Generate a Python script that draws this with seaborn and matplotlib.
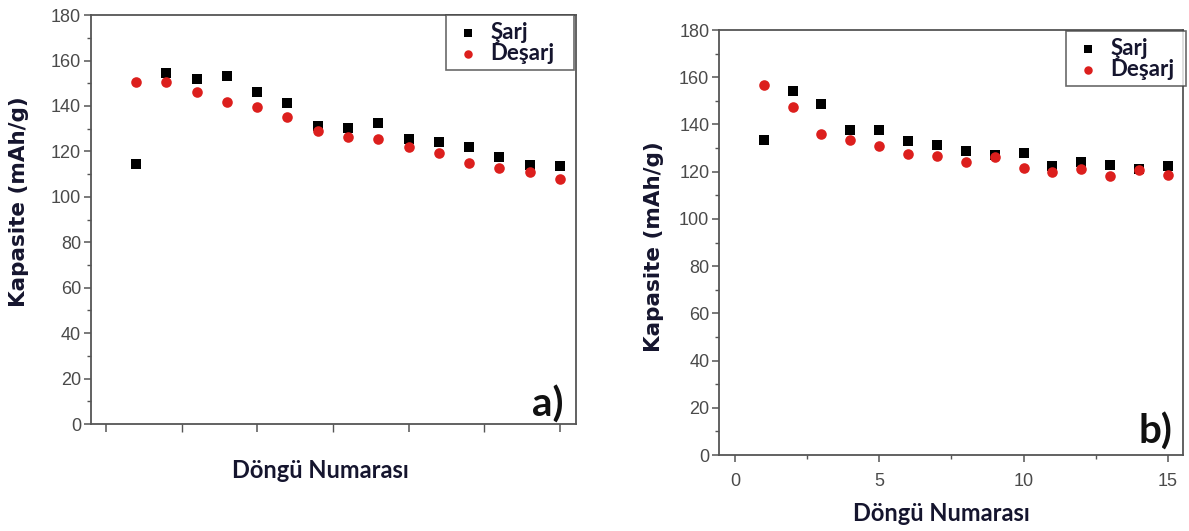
import numpy as np
import pandas as pd
import matplotlib
matplotlib.use("Agg")
import matplotlib.pyplot as plt
from matplotlib.ticker import MultipleLocator, NullFormatter
import seaborn as sns

# ---- data ----
cycles = list(range(1, 16))
sarj_a = [114.5, 154.4, 151.7, 153.3, 146.0, 141.2, 131.2, 130.5, 132.7, 125.5, 124.1, 122.1, 117.7, 114.1, 113.7]
desarj_a = [150.7, 150.4, 146.3, 141.6, 139.4, 135.0, 129.0, 126.5, 125.5, 122.1, 119.2, 115.1, 112.6, 110.8, 107.9]
sarj_b = [133.6, 154.3, 148.7, 137.5, 137.5, 132.8, 131.2, 128.6, 127.2, 128.1, 122.5, 123.9, 122.7, 121.1, 122.3]
desarj_b = [156.7, 147.6, 136.1, 133.6, 130.9, 127.4, 126.7, 123.9, 126.2, 121.6, 119.9, 121.3, 118.1, 120.6, 118.8]
series_names = ["Şarj", "Deşarj"]
panel_labels = ["a)", "b)"]
x_ticks = [0, 5, 10, 15]
y_ticks = list(range(0, 181, 20))
x_label = "Döngü Numarası"
y_label = "Kapasite (mAh/g)"

sns.set_style("ticks")
plt.rcParams["font.family"] = ["Liberation Sans", "DejaVu Sans"]

fig = plt.figure(figsize=(11.89, 5.31), dpi=100)
ax_a = fig.add_axes([0.0765, 0.2015, 0.408, 0.770])
ax_b = fig.add_axes([0.6047, 0.1431, 0.3902, 0.8004])

tick_col = "#4a4a4a"
spine_col = "#555555"
label_col = "#15152e"
red = "#dc1f1d"
cal_font = ["Lato", "DejaVu Sans"]
ver_font = ["DejaVu Sans"]

def draw(ax, sarj, desarj, xlim, show_xlabels, panel, leg_box, xl_coords, yl_coords, pan_xy):
    df = pd.DataFrame({
        "Döngü": cycles * 2,
        "Kapasite": sarj + desarj,
        "Seri": [series_names[0]] * len(cycles) + [series_names[1]] * len(cycles),
    })
    d1 = df[df["Seri"] == series_names[0]]
    d2 = df[df["Seri"] == series_names[1]]
    sns.scatterplot(data=d1, x="Döngü", y="Kapasite", ax=ax, marker="s", color="black",
                    s=48, linewidth=0, label=series_names[0])
    sns.scatterplot(data=d2, x="Döngü", y="Kapasite", ax=ax, marker="o", color=red,
                    s=58, linewidth=0, label=series_names[1])
    ax.set_xlim(*xlim)
    ax.set_ylim(0, 180)
    ax.set_xticks(x_ticks)
    ax.xaxis.set_minor_locator(MultipleLocator(2.5))
    ax.set_yticks(y_ticks)
    ax.yaxis.set_minor_locator(MultipleLocator(10))
    for s in ax.spines.values():
        s.set_visible(True)
        s.set_color(spine_col)
        s.set_linewidth(1.3)
    ax.tick_params(axis="both", which="major", direction="out", length=5, width=1.1,
                   color=spine_col, labelcolor=tick_col, labelsize=13, pad=2)
    ax.tick_params(axis="both", which="minor", direction="out", length=3, width=1.0,
                   color=spine_col)
    ax.tick_params(axis="x", which="major", pad=8)
    if not show_xlabels:
        ax.xaxis.set_major_formatter(NullFormatter())
        ax.tick_params(axis="x", which="both", length=6)
    ax.set_xlabel(x_label, fontsize=17, fontweight="bold", color=label_col, family=cal_font)
    ax.xaxis.set_label_coords(*xl_coords)
    ax.set_ylabel(y_label, fontsize=15.5, fontweight="bold", color=label_col, family=ver_font)
    ax.yaxis.set_label_coords(*yl_coords)
    ax.text(pan_xy[0], pan_xy[1], panel, transform=ax.transAxes, ha="right", va="bottom",
            fontsize=29, fontweight="bold", family=cal_font, color="#111111")
    leg = ax.legend(loc="upper right", bbox_to_anchor=leg_box, mode="expand",
                    borderaxespad=0, frameon=True, fancybox=False, edgecolor="#444444",
                    prop={"family": cal_font, "weight": "bold", "size": 16},
                    labelcolor=label_col, handletextpad=0.3, labelspacing=0.0,
                    borderpad=0.3, handlelength=1.4, markerscale=0.8)
    leg.get_frame().set_linewidth(1.2)

draw(ax_a, sarj_a, desarj_a, (-0.49, 15.53), False, panel_labels[0], (0.732, 0.0, 0.264, 1.0),
     (0.472, -0.085), (-0.128, 0.545), (0.975, 0.0))
draw(ax_b, sarj_b, desarj_b, (-0.55, 15.52), True, panel_labels[1], (0.748, 0.0, 0.258, 0.998),
     (0.48, -0.11), (-0.118, 0.49), (0.978, 0.01))

fig.savefig("out.png", dpi=100)
